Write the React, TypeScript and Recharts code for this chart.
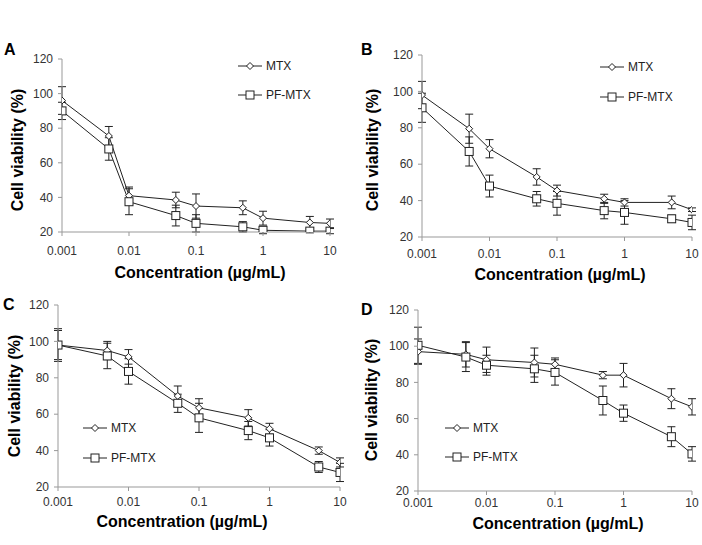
import { LineChart, Line, XAxis, YAxis, ErrorBar } from 'recharts';

// concentrations (µg/mL) and axis ticks
const concentrations = [0.001, 0.005, 0.01, 0.05, 0.1, 0.5, 1, 5, 10];
const xTicks = [0.001, 0.01, 0.1, 1, 10];
const yTicks = [20, 40, 60, 80, 100, 120];

// panel A
const mtxA = [96, 75.5, 41, 38.5, 35, 34, 28, 25.5, 25];
const mtxErrA = [8, 5.5, 5, 4.5, 7, 4, 4, 3.5, 2.5];
const pfA = [90, 68, 37.5, 29.5, 25, 23, 21, 20.5, 20.5];
const pfErrA = [5, 6.5, 7.5, 6, 5, 3, 2, 1, 1.5];

// panel B
const mtxB = [98, 79.5, 68.5, 53, 45.5, 41, 39, 39, 35];
const mtxErrB = [7.5, 8, 5, 4.5, 3, 2.5, 2, 3.5, 1];
const pfB = [91, 67, 48, 41, 38.5, 34.5, 33.5, 30, 28];
const pfErrB = [8, 8, 6, 4, 6.5, 4.5, 6.5, 2, 4];

// panel C
const mtxC = [98, 95, 91.5, 70, 63.5, 58, 52, 40, 33.5];
const mtxErrC = [9, 5, 4, 5.5, 5, 4.5, 3, 2, 2.5];
const pfC = [98, 92, 83.5, 66, 58, 51, 47, 31, 28];
const pfErrC = [8, 7, 7, 5, 8, 5, 4.5, 3, 5];

// panel D
const mtxD = [97, 95.5, 92.5, 91, 90, 84, 84, 71, 66.5];
const mtxErrD = [7, 7, 7, 8, 3.5, 2, 6.5, 5.5, 4.5];
const pfD = [100.5, 94, 89.5, 87.5, 85.5, 70, 63, 50, 40.5];
const pfErrD = [10, 8, 5.5, 7.5, 7, 8, 4.5, 5.5, 4];

const FONT = '"Liberation Sans", Arial, sans-serif';
const INK = '#222';
const AXIS = '#999';

const Diamond = (props: any) => {
  const { cx, cy } = props;
  if (cx == null || cy == null) return null;
  const r = 3.5;
  return (
    <path
      d={`M${cx},${cy - r}L${cx + r},${cy}L${cx},${cy + r}L${cx - r},${cy}Z`}
      fill="#fff"
      stroke={INK}
      strokeWidth={1}
    />
  );
};

const Square = (props: any) => {
  const { cx, cy } = props;
  if (cx == null || cy == null) return null;
  return <rect x={cx - 4} y={cy - 4} width={8} height={8} fill="#fff" stroke={INK} strokeWidth={1} />;
};

const LegendRow = ({ x, y, label, square }: { x: number; y: number; label: string; square?: boolean }) => (
  <div style={{ position: 'absolute', left: x, top: y - 8, height: 16, display: 'flex', alignItems: 'center' }}>
    <svg width={26} height={12}>
      <line x1={0} y1={6} x2={24} y2={6} stroke={INK} strokeWidth={1} />
      {square ? <Square cx={12} cy={6} /> : <Diamond cx={12} cy={6} />}
    </svg>
    <span style={{ fontFamily: FONT, fontSize: 12, color: INK, marginLeft: 2 }}>{label}</span>
  </div>
);

type Box = { left: number; right: number; top: number; bottom: number };

type PanelProps = {
  letter: string;
  letterPos: [number, number];
  box: Box;
  mtx: number[];
  mtxErr: number[];
  pf: number[];
  pfErr: number[];
  legendX: number;
  legendY: [number, number];
  yLabelPos: [number, number];
  xLabelPos: [number, number];
  xTickGap: number;
};

const Panel = ({ letter, letterPos, box, mtx, mtxErr, pf, pfErr, legendX, legendY, yLabelPos, xLabelPos, xTickGap }: PanelProps) => {
  const data = concentrations.map((x, i) => ({
    x,
    mtx: mtx[i],
    mtxErr: mtxErr[i],
    pf: pf[i],
    pfErr: pfErr[i],
  }));
  const yAxisW = 50;
  const xAxisH = 40;
  const padTop = 10;
  const padRight = 10;
  const left = box.left - yAxisW;
  const top = box.top - padTop;
  const width = box.right - box.left + yAxisW + padRight;
  const height = box.bottom - box.top + padTop + xAxisH;
  const tickStyle = { fill: '#333', fontSize: 12, fontFamily: FONT };

  return (
    <>
      <div style={{ position: 'absolute', left, top }}>
        <LineChart width={width} height={height} data={data} margin={{ top: padTop, right: padRight, left: 0, bottom: 0 }}>
          <XAxis
            dataKey="x"
            type="number"
            scale="log"
            domain={[0.001, 10]}
            ticks={xTicks}
            height={xAxisH}
            tickSize={4}
            tickMargin={xTickGap}
            axisLine={{ stroke: AXIS }}
            tickLine={{ stroke: AXIS }}
            tick={tickStyle}
            allowDataOverflow
          />
          <YAxis
            domain={[20, 120]}
            ticks={yTicks}
            width={yAxisW}
            tickSize={4}
            tickMargin={5}
            axisLine={{ stroke: AXIS }}
            tickLine={{ stroke: AXIS }}
            tick={tickStyle}
            allowDataOverflow
          />
          <Line dataKey="mtx" stroke={INK} strokeWidth={1} dot={<Diamond />} isAnimationActive={false}>
            <ErrorBar dataKey="mtxErr" direction="y" width={4} stroke={INK} strokeWidth={1} />
          </Line>
          <Line dataKey="pf" stroke={INK} strokeWidth={1} dot={<Square />} isAnimationActive={false}>
            <ErrorBar dataKey="pfErr" direction="y" width={4} stroke={INK} strokeWidth={1} />
          </Line>
        </LineChart>
      </div>
      <LegendRow x={legendX} y={legendY[0]} label="MTX" />
      <LegendRow x={legendX} y={legendY[1]} label="PF-MTX" square />
      <div
        style={{
          position: 'absolute',
          left: letterPos[0],
          top: letterPos[1],
          fontFamily: FONT,
          fontWeight: 'bold',
          fontSize: 16,
          lineHeight: '16px',
        }}
      >
        {letter}
      </div>
      <div
        style={{
          position: 'absolute',
          left: yLabelPos[0],
          top: yLabelPos[1],
          transform: 'translate(-50%, -50%) rotate(-90deg)',
          whiteSpace: 'nowrap',
          fontFamily: FONT,
          fontWeight: 'bold',
          fontSize: 16,
        }}
      >
        Cell viability (%)
      </div>
      <div
        style={{
          position: 'absolute',
          left: xLabelPos[0],
          top: xLabelPos[1],
          transform: 'translate(-50%, -50%)',
          whiteSpace: 'nowrap',
          fontFamily: FONT,
          fontWeight: 'bold',
          fontSize: 16,
        }}
      >
        Concentration (µg/mL)
      </div>
    </>
  );
};

export default function App() {
  return (
    <div style={{ position: 'absolute', left: 0, top: 0, width: 702, height: 545, background: '#fff', overflow: 'hidden' }}>
      <Panel
        letter="A"
        letterPos={[4, 42]}
        box={{ left: 62, right: 330, top: 59, bottom: 232 }}
        mtx={mtxA}
        mtxErr={mtxErrA}
        pf={pfA}
        pfErr={pfErrA}
        legendX={238}
        legendY={[66, 95]}
        yLabelPos={[18, 150]}
        xLabelPos={[200, 273]}
        xTickGap={10}
      />
      <Panel
        letter="B"
        letterPos={[361, 42]}
        box={{ left: 422, right: 692, top: 55, bottom: 237 }}
        mtx={mtxB}
        mtxErr={mtxErrB}
        pf={pfB}
        pfErr={pfErrB}
        legendX={600}
        legendY={[67, 97]}
        yLabelPos={[373, 150]}
        xLabelPos={[560, 275]}
        xTickGap={8}
      />
      <Panel
        letter="C"
        letterPos={[3, 297]}
        box={{ left: 58, right: 340, top: 305, bottom: 487 }}
        mtx={mtxC}
        mtxErr={mtxErrC}
        pf={pfC}
        pfErr={pfErrC}
        legendX={83}
        legendY={[428, 458]}
        yLabelPos={[15, 396]}
        xLabelPos={[182, 522]}
        xTickGap={6}
      />
      <Panel
        letter="D"
        letterPos={[361, 302]}
        box={{ left: 418, right: 692, top: 310, bottom: 491 }}
        mtx={mtxD}
        mtxErr={mtxErrD}
        pf={pfD}
        pfErr={pfErrD}
        legendX={445}
        legendY={[428, 457]}
        yLabelPos={[372, 400]}
        xLabelPos={[558, 524]}
        xTickGap={3}
      />
    </div>
  );
}
